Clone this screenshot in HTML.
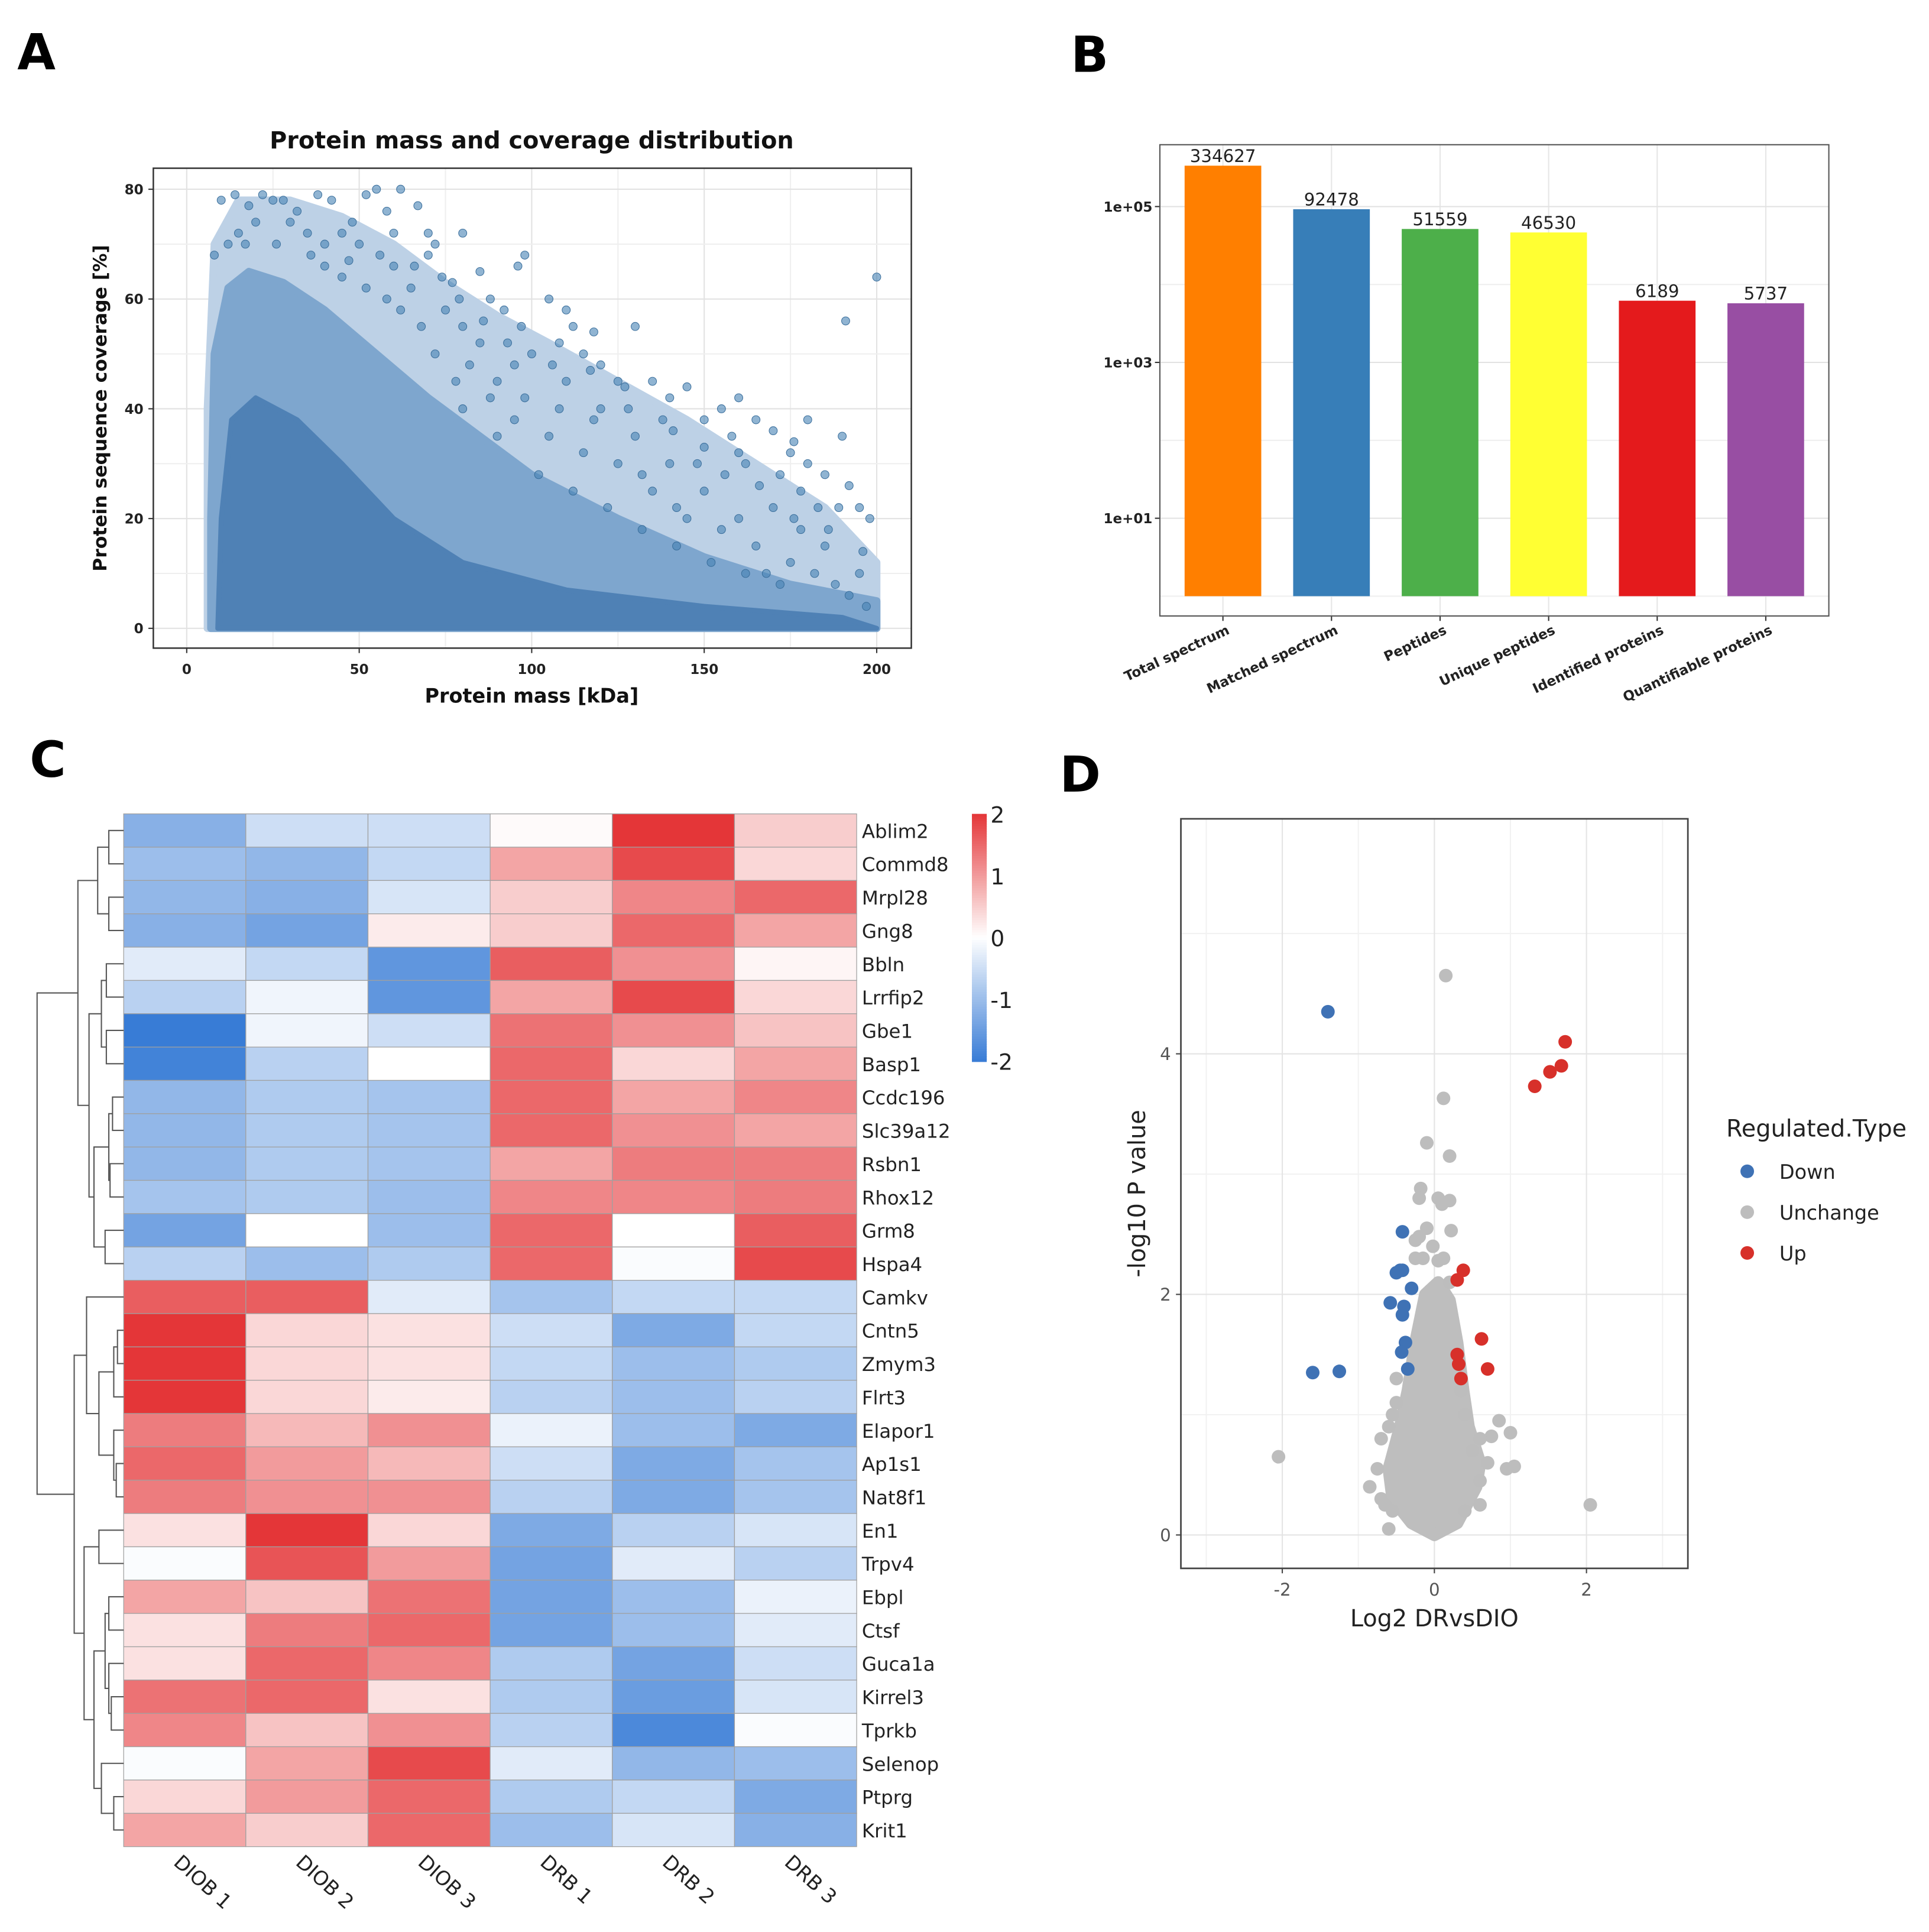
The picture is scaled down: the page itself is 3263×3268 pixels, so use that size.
<!DOCTYPE html>
<html><head><meta charset="utf-8"><style>
html,body{margin:0;padding:0;background:#fff}
svg{display:block}
text{font-family:"DejaVu Sans","Liberation Sans",sans-serif}
</style></head><body>
<svg id="fig" xmlns="http://www.w3.org/2000/svg" width="3263" height="3268" viewBox="0 0 1560 1562" preserveAspectRatio="none">
<rect x="0" y="0" width="1560" height="1562" fill="#fff"/>
<text x="14" y="56" font-size="40" font-weight="bold" font-family="Liberation Sans">A</text>
<text x="866" y="58" font-size="40" font-weight="bold" font-family="Liberation Sans">B</text>
<text x="24" y="628" font-size="40" font-weight="bold" font-family="Liberation Sans">C</text>
<text x="857" y="640" font-size="40" font-weight="bold" font-family="Liberation Sans">D</text>
</svg>
<script>
// ---------- Panel A data ----------
const aXTicks = [0, 50, 100, 150, 200];
const aYTicks = [0, 20, 40, 60, 80];
const aHalo = [[6,0],[200,0],[200,12],[185,22],[165,30],[145,38],[125,45],[105,52],[90,57],[75,63],[60,70],[45,75],[30,78],[15,78],[8,70],[6,40]];
const aCore = [[7,0],[200,0],[200,5],[175,8],[150,13],[125,20],[100,28],[85,35],[70,42],[55,50],[40,58],[28,63],[18,65],[12,62],[8,50],[7,20]];
const aInner = [[9,0],[200,0],[190,2],[150,4],[110,7],[80,12],[60,20],[45,30],[32,38],[20,42],[13,38],[10,20]];
const aMass = [10,14,18,22,25,28,32,38,42,52,55,62,48,58,67,70,72,80,85,96,98,70,60,50,45,40,35,30,20,15,12,8,77,88,92,105,110,112,118,108,120,115,125,130,135,140,145,150,155,158,160,162,165,170,172,175,178,180,185,190,192,195,198,200,191,183,170,160,150,140,130,120,110,100,95,90,80,75,65,165,175,185,195,188,178,168,155,145,135,125,115,105,95,88,82,148,138,128,118,108,98,90,80,78,72,68,62,58,52,45,40,60,85,102,112,122,132,142,152,162,172,182,192,197,142,132,156,166,176,186,196,189,180,176,150,160,141,127,117,106,97,93,86,79,74,66,56,47,36,26,17];
const aCov = [78,79,77,79,78,78,76,79,78,79,80,80,74,76,77,72,70,72,65,66,68,68,72,70,72,70,72,74,74,72,70,68,63,60,58,60,58,55,54,52,48,50,45,55,45,42,44,38,40,35,42,30,38,36,28,32,25,30,28,35,26,22,20,64,56,22,22,20,25,30,35,40,45,50,48,45,55,58,62,15,12,15,10,8,18,10,18,20,25,30,32,35,38,42,48,30,38,40,38,40,42,35,40,45,50,55,58,60,62,64,66,66,52,28,25,22,18,15,12,10,8,10,6,4,22,28,28,26,20,18,14,22,38,34,33,32,36,44,47,48,55,52,56,60,64,66,68,67,68,70,70];
// ---------- Panel B data ----------
const bCats = ["Total spectrum","Matched spectrum","Peptides","Unique peptides","Identified proteins","Quantifiable proteins"];
const bVals = [334627, 92478, 51559, 46530, 6189, 5737];
const bColors = ["#ff7f00","#377eb8","#4daf4a","#ffff33","#e41a1c","#984ea3"];
const bTicks = [1e5, 1e3, 1e1];
const bTickLabels = ["1e+05","1e+03","1e+01"];
// ---------- Panel C data ----------
const cGenes = ["Ablim2","Commd8","Mrpl28","Gng8","Bbln","Lrrfip2","Gbe1","Basp1","Ccdc196","Slc39a12","Rsbn1","Rhox12","Grm8","Hspa4","Camkv","Cntn5","Zmym3","Flrt3","Elapor1","Ap1s1","Nat8f1","En1","Trpv4","Ebpl","Ctsf","Guca1a","Kirrel3","Tprkb","Selenop","Ptprg","Krit1"];
const cSamples = ["DIOB 1","DIOB 2","DIOB 3","DRB 1","DRB 2","DRB 3"];
const cValues = [
[-1.2,-0.5,-0.5,0.05,2,0.5],[-1,-1.1,-0.6,0.9,1.8,0.4],[-1.1,-1.2,-0.4,0.5,1.2,1.5],[-1.2,-1.4,0.2,0.5,1.5,0.9],
[-0.3,-0.6,-1.6,1.6,1.1,0.1],[-0.7,-0.15,-1.6,0.9,1.8,0.4],[-2,-0.15,-0.5,1.4,1.1,0.6],[-1.9,-0.7,0,1.5,0.4,0.9],
[-1.1,-0.8,-0.9,1.5,0.9,1.2],[-1.1,-0.8,-0.9,1.5,1.1,0.9],[-1.1,-0.8,-0.9,0.9,1.3,1.3],[-0.9,-0.8,-1.0,1.2,1.2,1.3],
[-1.4,0,-1.0,1.5,0,1.6],[-0.7,-1.0,-0.8,1.5,-0.05,1.8],[1.6,1.6,-0.3,-0.9,-0.6,-0.6],[2,0.4,0.3,-0.5,-1.3,-0.6],
[2,0.4,0.3,-0.6,-1.0,-0.8],[2,0.4,0.2,-0.7,-1.0,-0.7],[1.3,0.7,1.1,-0.2,-1.0,-1.3],[1.5,1.0,0.7,-0.5,-1.3,-0.9],
[1.3,1.1,1.1,-0.7,-1.3,-0.9],[0.3,2,0.4,-1.3,-0.7,-0.4],[-0.05,1.7,1.0,-1.4,-0.3,-0.7],[0.9,0.6,1.4,-1.4,-1.0,-0.2],
[0.3,1.3,1.5,-1.4,-1.0,-0.3],[0.3,1.5,1.2,-0.8,-1.4,-0.5],[1.4,1.5,0.3,-0.8,-1.5,-0.4],[1.2,0.6,1.1,-0.7,-1.8,-0.05],
[-0.05,0.9,1.8,-0.3,-1.1,-1.0],[0.4,1.0,1.5,-0.8,-0.6,-1.3],[0.9,0.5,1.5,-1.0,-0.4,-1.2]];
const cBarTicks = [2,1,0,-1,-2];
const cTree = [30,[63,[79,[88,0,1],[88,2,3]],[72,[82,[86,4,5],[86,6,7]],[76,[88,[91,8,9],[89,10,11]],[85,12,13]]]],
 [60,[70,14,[80,[92,[95,15,16],17],[92,18,[94,19,20]]]],[68,[80,21,22],[76,[85,[88,23,24],[88,25,[90,26,27]]],[82,28,[92,29,30]]]]]];
// ---------- Panel D data ----------
const dXTicks = [-2,0,2];
const dYTicks = [0,2,4];
const dDownX = [-1.4,-0.42,-0.45,-0.5,-0.42,-0.3,-0.58,-0.4,-0.42,-0.38,-0.43,-1.6,-1.25,-0.35];
const dDownY = [4.35,2.52,2.2,2.18,2.2,2.05,1.93,1.9,1.83,1.6,1.52,1.35,1.36,1.38];
const dUpX = [1.72,1.52,1.67,1.32,0.38,0.3,0.62,0.3,0.32,0.7,0.35];
const dUpY = [4.1,3.85,3.9,3.73,2.2,2.12,1.63,1.5,1.42,1.38,1.3];
const dGreyX = [0.15,0.12,-0.1,0.2,-0.18,-0.2,0.05,0.2,0.1,-0.1,0.22,-0.25,-0.2,-0.02,-0.25,-0.15,0.05,0.12,0.2,-2.05,2.05,0.85,1.0,0.75,0.6,0.95,1.05,0.6,0.6,-0.85,-0.7,-0.65,-0.6,-0.7,-0.6,-0.55,-0.5,-0.5,0.35,0.4,0.5,-0.75,0.7,0.4,-0.55];
const dGreyY = [4.65,3.63,3.26,3.15,2.88,2.8,2.8,2.78,2.75,2.55,2.53,2.45,2.48,2.4,2.3,2.3,2.28,2.3,2.1,0.65,0.25,0.95,0.85,0.82,0.8,0.55,0.57,0.45,0.25,0.4,0.3,0.25,0.05,0.8,0.9,1.0,1.1,1.3,1.2,1.0,0.7,0.55,0.6,0.2,0.2];
const dCloud = [[0,0],[0.3,0.1],[0.55,0.4],[0.6,0.6],[0.45,0.9],[0.38,1.2],[0.3,1.6],[0.2,1.95],[0.05,2.1],[-0.12,2.0],[-0.25,1.6],[-0.35,1.2],[-0.45,0.9],[-0.6,0.55],[-0.55,0.3],[-0.3,0.1]];
const dLegend = ["Down","Unchange","Up"];
const dLegendColors = ["#3f72b5","#bdbdbd","#d7302a"];

const NS = "http://www.w3.org/2000/svg";
const svg = document.getElementById("fig");
function mk(tag, attrs, parent) {
  const e = document.createElementNS(NS, tag);
  for (const k in attrs) e.setAttribute(k, attrs[k]);
  (parent || svg).appendChild(e);
  return e;
}
function tx(x, y, s, attrs, parent) { const e = mk("text", Object.assign({x: x, y: y}, attrs), parent); e.textContent = s; return e; }

// ================= Panel A =================
const aL = 124, aR = 737, aT = 136, aB = 524;
const ax = v => 151 + v * (709 - 151) / 200;
const ay = v => 508 - v * (508 - 153) / 80;
let g = mk("g", {});


for (let v = -25; v <= 225; v += 25) {
  if (ax(v) < aL || ax(v) > aR) continue;
  const l = mk("line", {x1: ax(v), x2: ax(v), y1: aT, y2: aB, stroke: v % 50 === 0 ? "#e2e2e2" : "#efefef", "stroke-width": 1}, g);
  
  
}
for (let v = -10; v <= 90; v += 10) {
  if (ay(v) < aT || ay(v) > aB) continue;
  const l = mk("line", {x1: aL, x2: aR, y1: ay(v), y2: ay(v), stroke: v % 20 === 0 ? "#e2e2e2" : "#efefef", "stroke-width": 1}, g);
  
  
}
let poly = mk("polygon", {points: aHalo.map(p => ax(p[0]) + "," + ay(p[1])).join(" "), fill: "#bdd1e6", stroke: "#bdd1e6", "stroke-width": 6, "stroke-linejoin": "round"}, g);


poly = mk("polygon", {points: aCore.map(p => ax(p[0]) + "," + ay(p[1])).join(" "), fill: "#7ea6ce", stroke: "#7ea6ce", "stroke-width": 6, "stroke-linejoin": "round"}, g);


poly = mk("polygon", {points: aInner.map(p => ax(p[0]) + "," + ay(p[1])).join(" "), fill: "#4f81b5", stroke: "#4f81b5", "stroke-width": 4, "stroke-linejoin": "round"}, g);


for (let i = 0; i < aMass.length; i++) {
  const c = mk("circle", {cx: ax(aMass[i]), cy: ay(aCov[i]), r: 3.3, fill: "#4682b4", "fill-opacity": 0.6, stroke: "#3b6f9c", "stroke-width": 0.5}, g);
  
  
}
let fr = mk("rect", {x: aL, y: aT, width: aR - aL, height: aB - aT, fill: "none", stroke: "#333", "stroke-width": 1.2}, g);


aXTicks.forEach(v => {
  mk("line", {x1: ax(v), x2: ax(v), y1: aB, y2: aB + 4, stroke: "#333"}, g);
  const t = tx(ax(v), aB + 21, String(v), {"font-size": 11, "font-weight": "bold", "text-anchor": "middle", fill: "#222"}, g);
  
  
});
aYTicks.forEach(v => {
  mk("line", {x1: aL - 4, x2: aL, y1: ay(v), y2: ay(v), stroke: "#333"}, g);
  const t = tx(aL - 8, ay(v) + 4, String(v), {"font-size": 11, "font-weight": "bold", "text-anchor": "end", fill: "#222"}, g);
  
  
});
let t = tx(430, 120, "Protein mass and coverage distribution", {"font-size": 19, "font-weight": "bold", "text-anchor": "middle", fill: "#111"}, g);


t = tx(430, 568, "Protein mass [kDa]", {"font-size": 16, "font-weight": "bold", "text-anchor": "middle", fill: "#111"}, g);


t = tx(0, 0, "Protein sequence coverage [%]", {"font-size": 15, "font-weight": "bold", "text-anchor": "middle", fill: "#111", transform: "translate(86,330) rotate(-90)"}, g);



// ================= Panel B =================
const bL = 938, bR = 1479, bT = 117, bB = 498;
const by = v => 482 - Math.log10(v) * 63;
const bx = i => 989 + i * 87.8;
g = mk("g", {});


for (let i = 0; i < 6; i++) {
  const l = mk("line", {x1: bx(i), x2: bx(i), y1: bT, y2: bB, stroke: "#e6e6e6"}, g);
  
  
}
for (let e = 0; e <= 5; e++) {
  const l = mk("line", {x1: bL, x2: bR, y1: by(Math.pow(10, e)), y2: by(Math.pow(10, e)), stroke: e % 2 === 1 ? "#e2e2e2" : "#efefef"}, g);
  
  
}
bVals.forEach((v, i) => {
  const r = mk("rect", {x: bx(i) - 31, y: by(v), width: 62, height: 482 - by(v), fill: bColors[i]}, g);
  
  
  const lb = tx(bx(i), by(v) - 3, String(v), {"font-size": 14, "text-anchor": "middle", fill: "#222"}, g);
  
  
  mk("line", {x1: bx(i), x2: bx(i), y1: bB, y2: bB + 4, stroke: "#333"}, g);
  const xl = tx(0, 0, bCats[i], {"font-size": 11, "font-weight": "bold", "text-anchor": "end", fill: "#222", transform: "translate(" + (bx(i) + 6) + "," + (bB + 14) + ") rotate(-25)"}, g);
  
  
});
bTicks.forEach((v, i) => {
  mk("line", {x1: bL - 4, x2: bL, y1: by(v), y2: by(v), stroke: "#333"}, g);
  const yl = tx(bL - 6, by(v) + 4, bTickLabels[i], {"font-size": 11, "font-weight": "bold", "text-anchor": "end", fill: "#222"}, g);
  
  
});
fr = mk("rect", {x: bL, y: bT, width: bR - bL, height: bB - bT, fill: "none", stroke: "#555", "stroke-width": 1}, g);



// ================= Panel C =================
const cL = 100, cT = 658, cW = 98.8, cH = (1493 - 658) / 31;
function heat(v) {
  const tt = Math.max(-1, Math.min(1, v / 2));
  let c;
  if (tt >= 0) c = [255 + (228 - 255) * tt, 255 + (54 - 255) * tt, 255 + (56 - 255) * tt];
  else { const s = -tt; c = [255 + (56 - 255) * s, 255 + (124 - 255) * s, 255 + (214 - 255) * s]; }
  return "rgb(" + c.map(Math.round).join(",") + ")";
}
g = mk("g", {});


cValues.forEach((row, r) => {
  row.forEach((v, c) => {
    const cell = mk("rect", {x: cL + c * cW, y: cT + r * cH, width: cW, height: cH, fill: heat(v), stroke: "#a0a0a0", "stroke-width": 0.6}, g);
    
    
  });
  const gl = tx(697, cT + (r + 0.5) * cH + 6, cGenes[r], {"font-size": 15.5, fill: "#222"}, g);
  
  
});
cSamples.forEach((s, c) => {
  const sl = tx(0, 0, s, {"font-size": 16, fill: "#222", transform: "translate(" + (cL + (c + 0.4) * cW) + ",1507) rotate(42)"}, g);
  
  
});
function drawTree(node) {
  if (typeof node === "number") return {x: cL, y: cT + (node + 0.5) * cH};
  const a = drawTree(node[1]), b = drawTree(node[2]), h = node[0];
  const p = mk("path", {d: "M" + a.x + " " + a.y + " H" + h + " V" + b.y + " H" + b.x, fill: "none", stroke: "#555", "stroke-width": 1}, g);
  
  
  return {x: h, y: (a.y + b.y) / 2};
}
drawTree(cTree);
const cbTop = 658, cbBot = 858, cbX = 786;
const cby = v => cbTop + (2 - v) / 4 * (cbBot - cbTop);
for (let k = 0; k < 100; k++) {
  const v = 2 - k * 4 / 100;
  const r = mk("rect", {x: cbX, y: cby(v), width: 12, height: (cbBot - cbTop) / 100 + 0.6, fill: heat(v - 0.02)}, g);
  
  
}
cBarTicks.forEach(v => {
  const l = tx(801, cby(v) + 7, v < 0 ? "-" + Math.abs(v) : String(v), {"font-size": 18, fill: "#222"}, g);
  
  
});

// ================= Panel D =================
const dL = 955, dR = 1365, dT = 662, dB = 1268;
const dx = v => 1160 + v * 61.5;
const dy = v => 1241 - v * 97.25;
g = mk("g", {});


[-3, -1, 1, 3].forEach(v => { const l = mk("line", {x1: dx(v), x2: dx(v), y1: dT, y2: dB, stroke: "#f2f2f2"}, g);   });
[1, 3, 5].forEach(v => { const l = mk("line", {x1: dL, x2: dR, y1: dy(v), y2: dy(v), stroke: "#f2f2f2"}, g);   });
dXTicks.forEach(v => {
  const l = mk("line", {x1: dx(v), x2: dx(v), y1: dT, y2: dB, stroke: "#e4e4e4"}, g);
  
  
  mk("line", {x1: dx(v), x2: dx(v), y1: dB, y2: dB + 4, stroke: "#444"}, g);
  const tl = tx(dx(v), dB + 22, v < 0 ? "-" + Math.abs(v) : String(v), {"font-size": 14, "text-anchor": "middle", fill: "#555"}, g);
  
  
});
dYTicks.forEach(v => {
  const l = mk("line", {x1: dL, x2: dR, y1: dy(v), y2: dy(v), stroke: "#e4e4e4"}, g);
  
  
  mk("line", {x1: dL - 4, x2: dL, y1: dy(v), y2: dy(v), stroke: "#444"}, g);
  const tl = tx(dL - 8, dy(v) + 5, String(v), {"font-size": 14, "text-anchor": "end", fill: "#555"}, g);
  
  
});
poly = mk("polygon", {points: dCloud.map(p => dx(p[0]) + "," + dy(p[1])).join(" "), fill: "#bebebe", stroke: "#bebebe", "stroke-width": 10, "stroke-linejoin": "round"}, g);


dGreyX.forEach((v, i) => { const c = mk("circle", {cx: dx(v), cy: dy(dGreyY[i]), r: 5.5, fill: "#bdbdbd"}, g);   });
dDownX.forEach((v, i) => { const c = mk("circle", {cx: dx(v), cy: dy(dDownY[i]), r: 5.5, fill: "#3f72b5"}, g);   });
dUpX.forEach((v, i) => { const c = mk("circle", {cx: dx(v), cy: dy(dUpY[i]), r: 5.5, fill: "#d7302a"}, g);   });
fr = mk("rect", {x: dL, y: dT, width: dR - dL, height: dB - dT, fill: "none", stroke: "#444", "stroke-width": 1.3}, g);


t = tx(1160, 1315, "Log2 DRvsDIO", {"font-size": 19, "text-anchor": "middle", fill: "#222"}, g);


t = tx(0, 0, "-log10 P value", {"font-size": 19, "text-anchor": "middle", fill: "#222", transform: "translate(926,965) rotate(-90)"}, g);


t = tx(1396, 919, "Regulated.Type", {"font-size": 19, fill: "#222"}, g);


dLegend.forEach((s, i) => {
  const c = mk("circle", {cx: 1413, cy: 947 + i * 33, r: 5.5, fill: dLegendColors[i]}, g);
  
  
  const l = tx(1439, 953 + i * 33, s, {"font-size": 16, fill: "#222"}, g);
  
  
});
</script>
</body></html>
